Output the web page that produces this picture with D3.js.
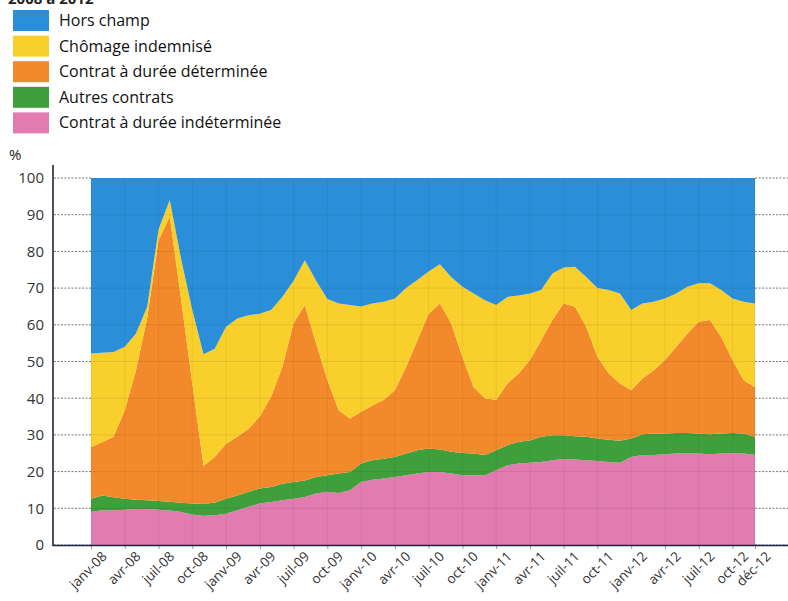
<!DOCTYPE html>
<html>
<head>
<meta charset="utf-8">
<script src="https://cdn.jsdelivr.net/npm/d3@7"></script>
<style>
  html, body { margin: 0; padding: 0; background: #ffffff; }
  svg { display: block; font-family: "Open Sans", "Noto Sans", sans-serif; }
</style>
</head>
<body>
<svg id="chart" width="788" height="601"></svg>
<script>
const months = [
  "janv-08","févr-08","mars-08","avr-08","mai-08","juin-08","juil-08","août-08","sept-08","oct-08","nov-08","déc-08",
  "janv-09","févr-09","mars-09","avr-09","mai-09","juin-09","juil-09","août-09","sept-09","oct-09","nov-09","déc-09",
  "janv-10","févr-10","mars-10","avr-10","mai-10","juin-10","juil-10","août-10","sept-10","oct-10","nov-10","déc-10",
  "janv-11","févr-11","mars-11","avr-11","mai-11","juin-11","juil-11","août-11","sept-11","oct-11","nov-11","déc-11",
  "janv-12","févr-12","mars-12","avr-12","mai-12","juin-12","juil-12","août-12","sept-12","oct-12","nov-12","déc-12"
];
const tickLabels = ["janv-08","avr-08","juil-08","oct-08","janv-09","avr-09","juil-09","oct-09",
  "janv-10","avr-10","juil-10","oct-10","janv-11","avr-11","juil-11","oct-11",
  "janv-12","avr-12","juil-12","oct-12","déc-12"];
const yTicks = [0,10,20,30,40,50,60,70,80,90,100];

const seriesNames = ["Contrat à durée indéterminée","Autres contrats","Contrat à durée déterminée","Chômage indemnisé","Hors champ"];

const cdi = [9.0,9.5,9.5,9.6,9.8,9.8,9.6,9.4,9.0,8.3,8.0,8.1,
  8.5,9.5,10.4,11.3,11.7,12.2,12.6,13.1,14.0,14.5,14.2,14.9,
  17.2,17.8,18.1,18.5,19.0,19.5,19.9,19.9,19.5,19.0,19.0,19.0,
  20.4,21.7,22.2,22.4,22.6,23.1,23.4,23.3,23.1,22.9,22.6,22.4,
  24.0,24.5,24.5,24.7,24.9,24.9,24.9,24.7,24.9,25.1,24.9,24.5];
const autres = [3.6,4.0,3.5,3.0,2.5,2.4,2.4,2.4,2.5,3.0,3.2,3.5,
  4.1,4.0,4.1,4.1,4.1,4.5,4.6,4.5,4.5,4.5,5.3,5.0,
  5.0,5.3,5.4,5.5,5.9,6.3,6.4,6.1,5.9,6.1,5.9,5.5,
  5.4,5.5,5.9,6.1,6.9,6.8,6.5,6.3,6.4,6.1,6.1,6.0,
  5.0,5.7,5.9,5.7,5.6,5.6,5.5,5.5,5.5,5.4,5.5,5.0];
const cdd = [14.1,14.5,16.5,24.1,35.3,49.8,71.0,77.7,55.5,32.7,10.3,12.4,
  15.0,16.0,17.2,19.6,24.6,31.8,43.2,47.8,36.5,26.0,17.2,14.6,
  14.1,14.9,16.0,18.2,23.6,30.0,36.7,39.8,35.0,26.2,18.1,15.5,
  13.7,16.8,18.6,21.9,26.3,31.4,35.9,35.3,30.0,22.3,18.0,15.6,
  13.2,15.2,17.2,20.0,23.5,27.1,30.4,31.1,26.3,19.9,14.5,13.5];
const chomage = [25.5,24.4,23.1,17.3,10.0,3.0,3.0,4.5,11.0,20.0,30.5,29.5,
  31.9,32.2,30.9,28.0,23.6,19.1,11.6,12.2,17.0,22.0,29.1,30.9,
  28.7,27.8,26.8,25.0,21.5,16.4,11.5,10.7,12.6,19.1,25.5,26.7,
  25.9,23.6,21.3,18.1,13.7,12.7,9.8,10.9,13.5,18.7,22.8,24.5,
  21.8,20.4,18.7,16.8,14.5,12.8,10.5,10.0,12.8,16.8,21.4,22.8];
const horsChamp = [47.8,47.6,47.4,46.0,42.4,35.0,14.0,6.0,22.0,36.0,48.0,46.5,
  40.5,38.3,37.4,37.0,36.0,32.4,28.0,22.4,28.0,33.0,34.2,34.6,
  35.0,34.2,33.7,32.8,30.0,27.8,25.5,23.5,27.0,29.6,31.5,33.3,
  34.6,32.4,32.0,31.5,30.5,26.0,24.4,24.2,27.0,30.0,30.5,31.5,
  36.0,34.2,33.7,32.8,31.5,29.6,28.7,28.7,30.5,32.8,33.7,34.2];

const colors = ["#e27bb0","#3f9f3b","#f2892a","#f9cf2c","#2a8fd8"];

// legend order top->bottom
const legendOrder = ["Hors champ","Chômage indemnisé","Contrat à durée déterminée","Autres contrats","Contrat à durée indéterminée"];

const svg = d3.select("#chart");

const data = months.map((m, i) => ({
  month: m,
  "Contrat à durée indéterminée": cdi[i],
  "Autres contrats": autres[i],
  "Contrat à durée déterminée": cdd[i],
  "Chômage indemnisé": chomage[i],
  "Hors champ": horsChamp[i]
}));

const x = d3.scalePoint().domain(months).range([91, 755]);
const y = d3.scaleLinear().domain([0, 100]).range([545, 178]);
const color = d3.scaleOrdinal().domain(seriesNames).range(colors);

const stacked = d3.stack().keys(seriesNames)(data);

// title (partly cut off at the top, as in the source)
svg.append("text").attr("x", 8).attr("y", 4)
  .attr("font-size", 15).attr("font-weight", "bold").attr("fill", "#222")
  .text("2008 à 2012");

// legend
const lg = svg.append("g");
legendOrder.forEach((name, k) => {
  const yy = 10 + k * 25.6;
  lg.append("rect").attr("x", 13).attr("y", yy).attr("width", 36).attr("height", 21)
    .attr("fill", color(name));
  lg.append("text").attr("x", 59).attr("y", yy + 16)
    .attr("font-size", 16).attr("fill", "#111").text(name);
});

// y gridlines (outside plot)
const grid = svg.append("g");
yTicks.forEach(t => {
  grid.append("line").attr("x1", 54).attr("x2", 91).attr("y1", y(t)).attr("y2", y(t))
    .attr("stroke", "#777").attr("stroke-width", 1).attr("stroke-dasharray", "2,1.5");
  grid.append("line").attr("x1", 755).attr("x2", 788).attr("y1", y(t)).attr("y2", y(t))
    .attr("stroke", "#777").attr("stroke-width", 1).attr("stroke-dasharray", "2,1.5");
});

// areas
const area = d3.area()
  .x((d) => x(d.data.month))
  .y0(d => y(d[0]))
  .y1(d => y(d[1]));

svg.append("g").selectAll("path").data(stacked).join("path")
  .attr("d", area)
  .attr("fill", d => color(d.key));

// faint grid over areas
yTicks.slice(1, -1).forEach(t => {
  svg.append("line").attr("x1", 91).attr("x2", 755).attr("y1", y(t)).attr("y2", y(t))
    .attr("stroke", "#000").attr("stroke-opacity", 0.08).attr("stroke-width", 1);
});
tickLabels.forEach(lbl => {
  svg.append("line").attr("x1", x(lbl)).attr("x2", x(lbl)).attr("y1", y(100)).attr("y2", y(0))
    .attr("stroke", "#000").attr("stroke-opacity", 0.06).attr("stroke-width", 1);
});

// y axis
const yAxis = d3.axisLeft(y).tickValues(yTicks).tickSize(0).tickPadding(9);
const yg = svg.append("g").attr("transform", "translate(53,0)").call(yAxis);
yg.select(".domain").remove();
yg.selectAll("text").attr("font-size", 15).attr("fill", "#333")
  .attr("font-family", "Open Sans, sans-serif");
svg.append("line").attr("x1", 53).attr("x2", 53).attr("y1", 165).attr("y2", 546)
  .attr("stroke", "#1c2340").attr("stroke-width", 1.6);
svg.append("text").attr("x", 9).attr("y", 160).attr("font-size", 15)
  .attr("fill", "#222").text("%");

// x axis
const xAxis = d3.axisBottom(x).tickValues(tickLabels).tickSize(4).tickPadding(4);
const xg = svg.append("g").attr("transform", "translate(0,545)").call(xAxis);
xg.select(".domain").remove();
xg.selectAll(".tick line").attr("stroke", "#999");
xg.selectAll("text")
  .attr("font-size", 13.5).attr("fill", "#333")
  .attr("font-family", "Open Sans, sans-serif")
  .attr("text-anchor", "end")
  .attr("dx", "0.2em").attr("dy", "0.9em")
  .attr("transform", "rotate(-45)");
svg.append("line").attr("x1", 53).attr("x2", 788).attr("y1", 545.5).attr("y2", 545.5)
  .attr("stroke", "#1c2340").attr("stroke-width", 1.6);
</script>
</body>
</html>
